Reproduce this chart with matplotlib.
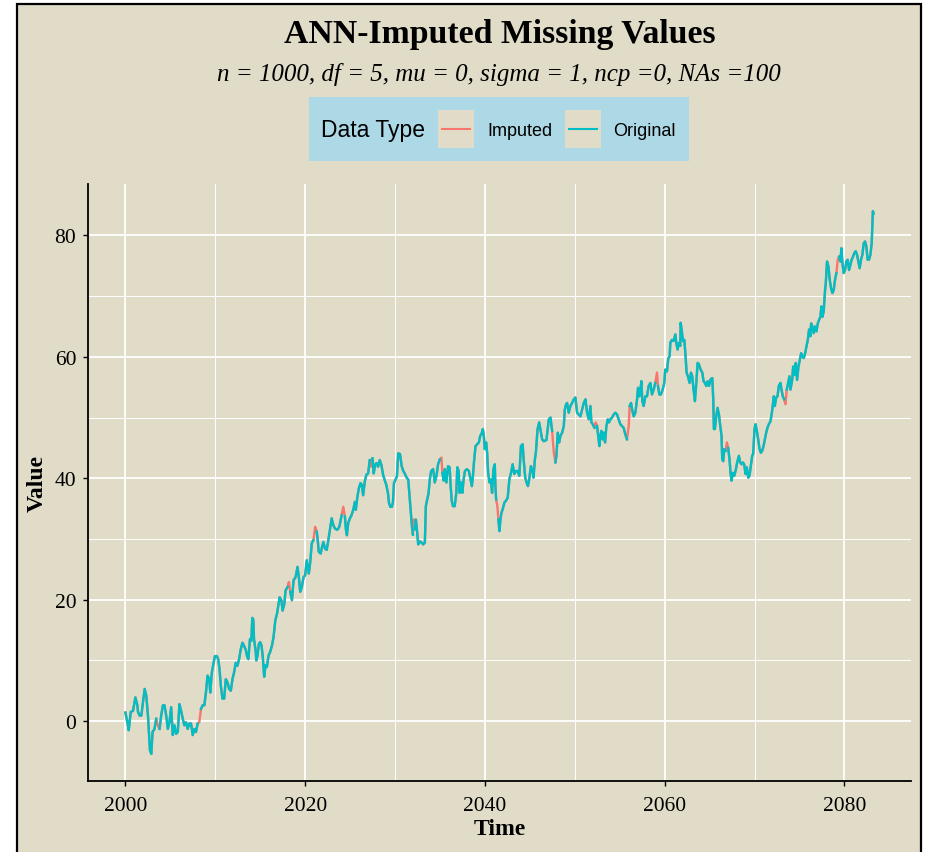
import numpy as np
import matplotlib.pyplot as plt
from matplotlib.patches import Rectangle
from matplotlib.lines import Line2D

# Values (time in years, value on the y scale)
years = [
    2000.00, 2000.22, 2000.37, 2000.59, 2000.85, 2001.11, 2001.33, 2001.40, 2001.59, 2001.77,
    2001.95, 2002.14, 2002.32, 2002.51, 2002.62, 2002.73, 2002.88, 2003.02, 2003.24, 2003.43,
    2003.61, 2003.80, 2003.98, 2004.17, 2004.35, 2004.54, 2004.72, 2004.90, 2005.09, 2005.27,
    2005.46, 2005.64, 2005.83, 2006.01, 2006.19, 2006.38, 2006.56, 2006.75, 2006.93, 2007.12,
    2007.30, 2007.49, 2007.67, 2007.85, 2008.04, 2008.22, 2008.41, 2008.59, 2008.78, 2008.96,
    2009.14, 2009.33, 2009.44, 2009.62, 2009.81, 2009.96, 2010.18, 2010.32, 2010.47, 2010.62,
    2010.80, 2010.99, 2011.17, 2011.36, 2011.54, 2011.73, 2011.91, 2012.09, 2012.28, 2012.46,
    2012.65, 2012.83, 2013.02, 2013.20, 2013.38, 2013.57, 2013.68, 2013.86, 2014.01, 2014.12,
    2014.23, 2014.31, 2014.49, 2014.56, 2014.70, 2014.85, 2015.00, 2015.15, 2015.30, 2015.44,
    2015.59, 2015.74, 2015.93, 2016.11, 2016.30, 2016.48, 2016.68, 2016.87, 2017.16, 2017.35,
    2017.49, 2017.68, 2017.82, 2018.05, 2018.19, 2018.34, 2018.53, 2018.71, 2018.93, 2019.15,
    2019.30, 2019.45, 2019.63, 2019.82, 2020.00, 2020.18, 2020.41, 2020.55, 2020.74, 2020.92,
    2021.11, 2021.29, 2021.40, 2021.51, 2021.73, 2021.88, 2022.03, 2022.21, 2022.40, 2022.58,
    2022.77, 2022.95, 2023.13, 2023.32, 2023.58, 2023.80, 2024.06, 2024.24, 2024.42, 2024.54,
    2024.65, 2024.79, 2024.98, 2025.16, 2025.35, 2025.53, 2025.64, 2025.79, 2025.97, 2026.16,
    2026.31, 2026.45, 2026.64, 2026.82, 2027.01, 2027.19, 2027.34, 2027.49, 2027.63, 2027.78,
    2027.93, 2028.11, 2028.30, 2028.48, 2028.67, 2028.85, 2029.03, 2029.22, 2029.33, 2029.48,
    2029.66, 2029.77, 2029.88, 2030.03, 2030.21, 2030.36, 2030.55, 2030.74, 2030.92, 2031.11,
    2031.29, 2031.47, 2031.59, 2031.73, 2031.88, 2031.99, 2032.10, 2032.21, 2032.32, 2032.47,
    2032.58, 2032.77, 2032.95, 2033.13, 2033.32, 2033.43, 2033.58, 2033.72, 2033.87, 2034.02,
    2034.24, 2034.42, 2034.61, 2034.79, 2034.98, 2035.16, 2035.27, 2035.42, 2035.53, 2035.72,
    2035.90, 2036.08, 2036.19, 2036.31, 2036.45, 2036.64, 2036.82, 2036.93, 2037.08, 2037.19,
    2037.34, 2037.49, 2037.63, 2037.78, 2038.00, 2038.22, 2038.41, 2038.55, 2038.67, 2038.81,
    2038.96, 2039.14, 2039.33, 2039.48, 2039.62, 2039.77, 2039.88, 2039.99, 2040.14, 2040.25,
    2040.36, 2040.51, 2040.66, 2040.80, 2040.95, 2041.10, 2041.17, 2041.25, 2041.39, 2041.50,
    2041.62, 2041.73, 2041.84, 2041.98, 2042.17, 2042.35, 2042.54, 2042.72, 2042.91, 2043.09,
    2043.27, 2043.46, 2043.64, 2043.83, 2044.01, 2044.20, 2044.31, 2044.49, 2044.64, 2044.79,
    2044.93, 2045.12, 2045.30, 2045.41, 2045.56, 2045.67, 2045.86, 2046.04, 2046.37, 2046.56,
    2046.85, 2047.11, 2047.30, 2047.48, 2047.67, 2047.85, 2047.96, 2048.11, 2048.26, 2048.41,
    2048.59, 2048.78, 2048.89, 2049.04, 2049.15, 2049.33, 2049.52, 2049.70, 2049.89, 2050.07,
    2050.26, 2050.44, 2050.63, 2050.81, 2051.00, 2051.19, 2051.37, 2051.56, 2051.74, 2051.85,
    2052.00, 2052.19, 2052.33, 2052.48, 2052.59, 2052.74, 2052.85, 2052.96, 2053.11, 2053.22,
    2053.37, 2053.52, 2053.67, 2053.81, 2053.96, 2054.15, 2054.33, 2054.52, 2054.70, 2054.89,
    2055.07, 2055.26, 2055.44, 2055.63, 2055.81, 2056.00, 2056.11, 2056.26, 2056.41, 2056.56,
    2056.74, 2056.93, 2057.04, 2057.19, 2057.30, 2057.41, 2057.52, 2057.67, 2057.85, 2058.04,
    2058.22, 2058.41, 2058.59, 2058.78, 2058.96, 2059.15, 2059.26, 2059.41, 2059.59, 2059.78,
    2059.96, 2060.07, 2060.26, 2060.41, 2060.56, 2060.63, 2060.81, 2061.00, 2061.19, 2061.30,
    2061.44, 2061.59, 2061.74, 2061.78, 2061.89, 2062.04, 2062.19, 2062.33, 2062.44, 2062.59,
    2062.78, 2062.93, 2063.07, 2063.22, 2063.37, 2063.52, 2063.67, 2063.81, 2064.00, 2064.19,
    2064.33, 2064.48, 2064.63, 2064.78, 2064.93, 2065.11, 2065.30, 2065.41, 2065.48, 2065.59,
    2065.74, 2065.89, 2066.04, 2066.19, 2066.33, 2066.41, 2066.52, 2066.63, 2066.78, 2066.93,
    2067.07, 2067.22, 2067.33, 2067.44, 2067.59, 2067.74, 2067.89, 2068.07, 2068.26, 2068.41,
    2068.56, 2068.70, 2068.85, 2069.00, 2069.15, 2069.30, 2069.44, 2069.59, 2069.74, 2069.85,
    2070.00, 2070.11, 2070.26, 2070.41, 2070.56, 2070.70, 2070.85, 2071.00, 2071.15, 2071.30,
    2071.44, 2071.59, 2071.78, 2071.96, 2072.15, 2072.26, 2072.41, 2072.56, 2072.70, 2072.89,
    2073.00, 2073.15, 2073.30, 2073.44, 2073.59, 2073.74, 2073.89, 2074.00, 2074.19, 2074.30,
    2074.44, 2074.59, 2074.74, 2074.89, 2075.04, 2075.19, 2075.33, 2075.48, 2075.63, 2075.78,
    2075.93, 2076.07, 2076.22, 2076.30, 2076.44, 2076.59, 2076.74, 2076.89, 2077.04, 2077.19,
    2077.33, 2077.44, 2077.56, 2077.70, 2077.85, 2077.93, 2078.07, 2078.22, 2078.37, 2078.52,
    2078.67, 2078.81, 2078.96, 2079.11, 2079.26, 2079.41, 2079.56, 2079.67, 2079.78, 2079.93,
    2080.07, 2080.22, 2080.37, 2080.52, 2080.67, 2080.81, 2080.96, 2081.11, 2081.26, 2081.41,
    2081.56, 2081.70, 2081.85, 2082.00, 2082.15, 2082.30, 2082.44, 2082.59, 2082.74, 2082.89,
    2083.04, 2083.11, 2083.17, 2083.25,
]

values = [
    1.4, -0.2, -1.5, 1.5, 1.7, 3.9, 2.6, 1.5, 0.9, 0.9,
    3.1, 5.3, 4.2, 0.9, -1.8, -4.8, -5.4, -1.8, -1.3, 0.4,
    -0.7, -1.3, 0.9, 2.6, 2.6, 0.9, -1.3, -0.2, 2.3, -2.3,
    -0.7, -2.1, -1.8, 2.8, 1.7, 0.4, -0.7, -0.2, -1.3, -0.4,
    -0.4, -2.3, -1.3, -1.8, -0.4, -0.2, 2.0, 2.6, 2.6, 4.7,
    7.5, 6.9, 4.7, 8.0, 9.6, 10.7, 10.7, 10.2, 8.6, 5.8,
    3.7, 3.7, 6.9, 6.4, 5.3, 5.0, 6.9, 8.0, 9.6, 9.1,
    10.2, 11.8, 12.9, 12.4, 11.8, 10.5, 10.2, 13.5, 13.2, 17.0,
    16.7, 13.5, 11.6, 10.0, 10.8, 12.7, 13.0, 12.4, 10.3, 7.3,
    9.2, 8.9, 10.8, 11.4, 12.4, 13.8, 16.6, 17.7, 20.4, 19.9,
    18.2, 19.3, 21.5, 22.1, 22.9, 21.3, 19.9, 23.2, 23.7, 25.4,
    23.7, 21.3, 22.1, 23.7, 24.0, 26.5, 24.3, 26.0, 29.3, 29.8,
    32.0, 31.2, 29.8, 27.9, 27.6, 28.7, 29.5, 28.4, 28.2, 29.8,
    31.7, 33.4, 32.3, 31.7, 31.5, 32.0, 33.9, 35.3, 33.7, 31.5,
    30.6, 32.6, 33.4, 33.9, 34.8, 36.1, 34.8, 36.7, 38.3, 39.2,
    38.9, 37.2, 39.5, 40.6, 40.8, 43.0, 41.9, 43.3, 40.8, 42.2,
    42.5, 41.9, 43.0, 42.2, 40.6, 39.7, 38.9, 37.5, 35.9, 35.3,
    35.3, 36.1, 39.2, 39.7, 40.3, 44.1, 44.0, 42.0, 41.2, 40.7,
    40.1, 39.8, 37.6, 34.9, 32.1, 30.7, 33.2, 31.6, 33.2, 31.0,
    29.1, 29.6, 29.4, 29.1, 29.4, 35.4, 36.5, 37.4, 39.8, 41.2,
    41.5, 39.3, 40.4, 42.3, 43.1, 43.4, 40.9, 39.6, 41.5, 39.3,
    42.0, 41.8, 38.7, 36.3, 35.4, 35.4, 37.6, 41.8, 41.2, 37.6,
    39.3, 37.6, 39.8, 41.2, 41.5, 41.2, 39.8, 38.7, 40.4, 43.1,
    45.3, 45.6, 45.9, 47.0, 47.3, 48.1, 47.0, 44.8, 45.9, 44.2,
    40.9, 39.3, 39.8, 37.6, 41.5, 42.3, 38.7, 36.5, 35.4, 33.2,
    31.3, 33.2, 34.3, 34.9, 36.0, 36.3, 36.8, 39.8, 40.9, 42.3,
    40.7, 41.2, 41.2, 40.4, 45.3, 45.6, 43.1, 40.1, 39.3, 38.7,
    39.8, 42.0, 41.2, 40.1, 43.1, 44.2, 48.1, 49.2, 46.4, 46.1,
    46.3, 49.7, 50.0, 47.8, 44.2, 42.6, 43.7, 47.5, 45.9, 47.0,
    47.5, 48.6, 51.3, 52.2, 52.4, 50.8, 51.9, 52.4, 53.0, 53.3,
    50.8, 50.5, 50.2, 51.3, 52.4, 53.0, 50.8, 49.7, 51.9, 49.2,
    48.9, 48.3, 49.2, 48.6, 47.2, 45.3, 47.0, 47.8, 46.4, 47.5,
    45.9, 48.6, 49.7, 49.2, 49.7, 50.0, 50.5, 50.8, 50.5, 49.7,
    48.9, 48.6, 48.3, 47.2, 46.4, 48.6, 51.9, 52.4, 51.1, 50.2,
    50.8, 53.0, 54.9, 53.5, 54.4, 56.0, 52.7, 51.9, 53.5, 53.5,
    55.2, 55.7, 53.8, 54.6, 55.7, 57.4, 55.2, 53.8, 53.8, 54.6,
    55.7, 57.9, 57.6, 59.8, 60.1, 62.3, 62.8, 62.6, 63.7, 62.3,
    61.2, 62.3, 61.8, 65.6, 64.5, 62.6, 62.8, 60.1, 57.4, 56.8,
    55.7, 57.4, 56.8, 54.6, 52.7, 55.7, 59.0, 58.8, 57.9, 57.4,
    56.0, 55.7, 55.2, 56.0, 55.2, 56.3, 56.5, 53.0, 48.1, 48.1,
    50.2, 51.6, 50.5, 48.6, 47.0, 43.1, 42.8, 44.8, 44.5, 45.9,
    45.0, 43.1, 40.9, 39.6, 40.9, 40.4, 41.2, 42.6, 43.7, 42.6,
    42.3, 42.6, 42.3, 40.7, 41.8, 40.1, 40.4, 42.0, 43.7, 44.0,
    48.1, 48.9, 47.8, 46.4, 44.8, 44.2, 44.5, 45.3, 46.4, 47.5,
    48.3, 48.9, 49.4, 51.1, 53.5, 51.9, 53.3, 53.5, 55.2, 55.7,
    54.6, 53.5, 53.0, 52.2, 54.6, 55.7, 56.8, 54.6, 56.2, 58.4,
    57.0, 59.0, 56.2, 58.4, 59.5, 60.6, 60.1, 59.8, 60.6, 61.7,
    62.8, 64.5, 63.4, 65.5, 65.0, 63.9, 65.0, 64.2, 65.5, 66.1,
    66.6, 68.3, 66.6, 67.5, 71.0, 72.1, 75.7, 74.9, 72.7, 71.3,
    70.5, 71.0, 72.7, 73.8, 76.0, 76.5, 75.7, 77.9, 75.4, 73.8,
    74.3, 75.7, 76.0, 74.3, 75.2, 76.0, 76.5, 77.1, 77.4, 76.8,
    75.7, 74.6, 76.0, 76.8, 78.7, 79.0, 78.2, 76.0, 76.0, 76.8,
    78.7, 81.5, 84.0, 83.6,
]

# places where the red (imputed) line shows through the original series
missing_years = [
    2003.61, 2008.22, 2018.19, 2021.11, 2024.24, 2027.34, 2032.10, 2035.16,
    2041.39, 2047.67, 2052.33, 2056.00, 2059.15, 2066.93, 2073.44, 2079.26,
]

series_names = ["Imputed", "Original"]
series_colors = ["#F8766D", "#00BFC4"]

years = np.array(years)
imputed = np.array(values)
original = imputed.copy()
for y in missing_years:
    original[np.argmin(np.abs(years - y))] = np.nan

panel_bg = "#E0DCC8"
serif = ["Liberation Serif", "DejaVu Serif"]
sans = ["Liberation Sans", "DejaVu Sans"]

W, H = 928, 853
fig = plt.figure(figsize=(W / 100, H / 100), dpi=100, facecolor="white")

# beige panel with black border (bottom edge runs off the picture)
fig.patches.append(Rectangle((17 / W, -0.02), (921 - 17) / W, 1.02 - 5 / H,
                             transform=fig.transFigure, facecolor=panel_bg,
                             edgecolor="black", linewidth=1.6, zorder=-5))

ax = fig.add_axes([88 / W, 1 - 782 / H, (911 - 88) / W, (782 - 185) / H])
ax.set_facecolor(panel_bg)

ax.plot(years, imputed, color=series_colors[0], linewidth=1.7, zorder=3)
ax.plot(years, original, color=series_colors[1], linewidth=1.7, zorder=4)

# ggplot-like 5% expansion
xr = years.max() - years.min()
yr = np.nanmax(imputed) - np.nanmin(imputed)
ax.set_xlim(years.min() - 0.05 * xr, years.max() + 0.05 * xr)
ax.set_ylim(np.nanmin(imputed) - 0.05 * yr, np.nanmax(imputed) + 0.05 * yr)

ax.set_xticks([2000, 2020, 2040, 2060, 2080])
ax.set_xticks([2010, 2030, 2050, 2070], minor=True)
ax.set_yticks([0, 20, 40, 60, 80])
ax.set_yticks([10, 30, 50, 70], minor=True)
ax.grid(which="major", color="white", linewidth=1.3, zorder=1)
ax.grid(which="minor", color="white", linewidth=0.7, zorder=1)
ax.set_axisbelow(True)

for s in ["top", "right"]:
    ax.spines[s].set_visible(False)
for s in ["left", "bottom"]:
    ax.spines[s].set_linewidth(1.3)
    ax.spines[s].set_color("black")

ax.tick_params(which="major", length=3.5, width=1.0, color="black",
               labelsize=15.5, labelcolor="black")
ax.tick_params(axis="x", pad=7.5)
ax.tick_params(axis="y", pad=5)
ax.tick_params(which="minor", length=0)
for lab in ax.get_xticklabels() + ax.get_yticklabels():
    lab.set_family(serif)

ax.set_xlabel("Time", family=serif, fontweight="bold", fontsize=17, labelpad=2)
ax.set_ylabel("Value", family=serif, fontweight="bold", fontsize=17, labelpad=5)

fig.text(500 / W, 1 - 34 / H, "ANN-Imputed Missing Values", family=serif,
         fontweight="bold", fontsize=24.3, ha="center", va="center")
fig.text(499 / W, 1 - 75 / H, "n = 1000, df = 5, mu = 0, sigma = 1, ncp =0, NAs =100",
         family=serif, style="italic", fontsize=18, ha="center", va="center")

# legend drawn by hand: title on the left, keys in one row
fig.patches.append(Rectangle((309 / W, 1 - 162 / H), (689 - 309) / W, (162 - 98) / H,
                             transform=fig.transFigure, facecolor="#ADD8E6",
                             edgecolor="none", zorder=2))
fig.text(321 / W, 1 - 131 / H, "Data Type", family=sans, fontsize=16.5,
         ha="left", va="center")
for kx, tx, name, col in zip([438, 565], [487, 613], series_names, series_colors):
    fig.patches.append(Rectangle((kx / W, 1 - 149 / H), 36 / W, 38 / H,
                                 transform=fig.transFigure, facecolor=panel_bg,
                                 edgecolor="none", zorder=3))
    fig.lines.append(Line2D([(kx + 4) / W, (kx + 32) / W], [1 - 130 / H, 1 - 130 / H],
                            transform=fig.transFigure, color=col, linewidth=1.5,
                            zorder=4))
    fig.text(tx / W, 1 - 131 / H, name, family=sans, fontsize=13,
             ha="left", va="center")

fig.savefig("out.png", dpi=100, facecolor="white")
